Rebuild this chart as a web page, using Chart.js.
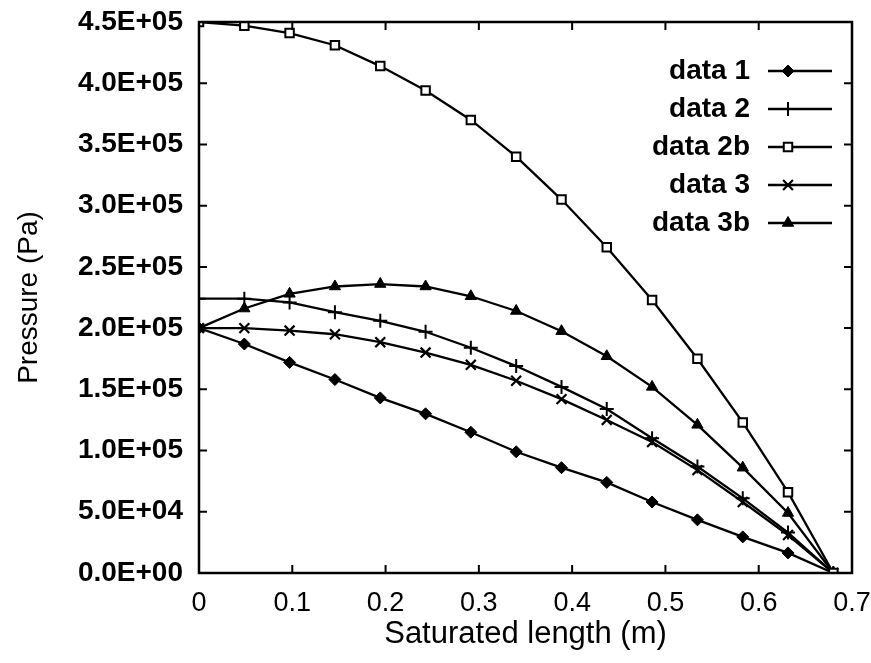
<!DOCTYPE html>
<html>
<head>
<meta charset="utf-8">
<script src="https://cdn.jsdelivr.net/npm/chart.js"></script>
<style>
html,body{margin:0;padding:0;background:#fff;}
#wrap{width:871px;height:663px;position:relative;}
</style>
</head>
<body>
<div id="wrap"><canvas id="c" width="871" height="663"></canvas></div>
<script>
// ---- data ----
const xValues = [0, 0.0486, 0.0971, 0.1457, 0.1943, 0.2429, 0.2914, 0.34, 0.3886, 0.4371, 0.4857, 0.5343, 0.5829, 0.6314, 0.68];
const data1  = [200000, 187000, 172000, 158000, 143000, 130000, 115000, 99000, 86000, 74000, 58000, 43400, 29500, 16400, 0];
const data2  = [224000, 224000, 221000, 213000, 206000, 197000, 184000, 169000, 152000, 134000, 110000, 87000, 61000, 33000, 0];
const data2b = [450000, 447000, 441000, 431000, 414000, 394000, 370000, 340000, 305000, 266000, 223000, 175000, 123000, 66000, 0];
const data3  = [200000, 200000, 198000, 195000, 188500, 180000, 170000, 157000, 142000, 125000, 107000, 84000, 58000, 31000, 0];
const data3b = [200000, 216000, 228000, 234000, 236000, 234000, 226000, 214000, 197500, 177000, 152000, 121000, 86000, 49000, 0];
const seriesNames = ["data 1", "data 2", "data 2b", "data 3", "data 3b"];
const xTickLabels = ["0", "0.1", "0.2", "0.3", "0.4", "0.5", "0.6", "0.7"];
const yTickLabels = ["0.0E+00", "5.0E+04", "1.0E+05", "1.5E+05", "2.0E+05", "2.5E+05", "3.0E+05", "3.5E+05", "4.0E+05", "4.5E+05"];
const xTitle = "Saturated length (m)";
const yTitle = "Pressure (Pa)";

const FONT = "'Liberation Sans', Arial, Helvetica, sans-serif";

function pts(ys){ return xValues.map((x,i)=>({x:x, y:ys[i]})); }

const styles = [
  {pointStyle:'rectRot', pointRadius:6, pointBackgroundColor:'#000', pointBorderWidth:1},
  {pointStyle:'cross', pointRadius:7, pointBackgroundColor:'#000', pointBorderWidth:2},
  {pointStyle:'rect', pointRadius:6, pointBackgroundColor:'#fff', pointBorderWidth:2},
  {pointStyle:'crossRot', pointRadius:7, pointBackgroundColor:'#000', pointBorderWidth:2.2},
  {pointStyle:'triangle', pointRadius:6.5, pointBackgroundColor:'#000', pointBorderWidth:1}
];
const allSeries = [data1, data2, data2b, data3, data3b];

const datasets = allSeries.map((s,i)=>Object.assign({
  label: seriesNames[i],
  data: pts(s),
  borderColor:'#000',
  pointBorderColor:'#000',
  borderWidth:2.3,
  tension:0,
  fill:false,
  order: i===2 ? 0 : 1
}, styles[i]));

function drawMarker(ctx, st, x, y){
  ctx.save();
  ctx.strokeStyle = '#000';
  ctx.fillStyle = st.pointBackgroundColor;
  ctx.lineWidth = st.pointBorderWidth;
  if (Chart.helpers && Chart.helpers.drawPoint) {
    Chart.helpers.drawPoint(ctx, {pointStyle: st.pointStyle, radius: st.pointRadius, rotation:0, borderWidth: st.pointBorderWidth}, x, y);
  }
  ctx.restore();
}

const framePlugin = {
  id:'frame',
  afterDatasetsDraw(chart){
    const {ctx, chartArea:a, scales} = chart;
    ctx.save();
    ctx.strokeStyle = '#000';
    ctx.lineWidth = 2.5;
    ctx.strokeRect(a.left, a.top, a.right - a.left, a.bottom - a.top);
    ctx.lineWidth = 2;
    const tl = 8;
    scales.x.ticks.forEach(t=>{
      const px = scales.x.getPixelForValue(t.value);
      ctx.beginPath();
      ctx.moveTo(px, a.bottom); ctx.lineTo(px, a.bottom - tl);
      ctx.moveTo(px, a.top); ctx.lineTo(px, a.top + tl);
      ctx.stroke();
    });
    scales.y.ticks.forEach(t=>{
      const py = scales.y.getPixelForValue(t.value);
      ctx.beginPath();
      ctx.moveTo(a.left, py); ctx.lineTo(a.left + tl, py);
      ctx.moveTo(a.right, py); ctx.lineTo(a.right - tl, py);
      ctx.stroke();
    });
    // legend
    ctx.font = "bold 28px " + FONT;
    ctx.fillStyle = '#000';
    ctx.textAlign = 'right';
    ctx.textBaseline = 'middle';
    chart.data.datasets.forEach((ds,i)=>{
      const y = 71 + 38*i;
      ctx.fillText(ds.label, 750, y);
      ctx.lineWidth = 2.3;
      ctx.beginPath(); ctx.moveTo(768, y); ctx.lineTo(832, y); ctx.stroke();
      drawMarker(ctx, styles[i], 788, y);
    });
    ctx.restore();
  }
};

new Chart(document.getElementById('c'), {
  type:'line',
  data:{datasets:datasets},
  options:{
    responsive:false,
    animation:false,
    devicePixelRatio:1,
    layout:{padding:{top:22, right:19, left:0, bottom:0}},
    plugins:{legend:{display:false}, tooltip:{enabled:false}},
    scales:{
      x:{
        type:'linear', min:0, max:0.7,
        grid:{display:false, drawTicks:false},
        border:{display:false},
        ticks:{stepSize:0.1, padding:14, color:'#000', font:{family:FONT, size:27},
          callback:(v)=>{ const i = Math.round(v*10); return xTickLabels[i] !== undefined ? xTickLabels[i] : ''; }},
        title:{display:true, text:xTitle, color:'#000', font:{family:FONT, size:31}, padding:{top:0,bottom:10}},
        afterFit:(s)=>{ s.height = 90; s.paddingLeft = 0; s.paddingRight = 0; }
      },
      y:{
        type:'linear', min:0, max:450000,
        grid:{display:false, drawTicks:false},
        border:{display:false},
        ticks:{stepSize:50000, padding:16, color:'#000', font:{family:FONT, size:28, weight:'bold'},
          callback:(v)=>{ const i = Math.round(v/50000); return yTickLabels[i] !== undefined ? yTickLabels[i] : ''; }},
        title:{display:true, text:yTitle, color:'#000', font:{family:FONT, size:28}, padding:{top:12,bottom:0}},
        afterFit:(s)=>{ s.width = 199; s.paddingTop = 0; s.paddingBottom = 0; }
      }
    }
  },
  plugins:[framePlugin]
});
</script>
</body>
</html>
